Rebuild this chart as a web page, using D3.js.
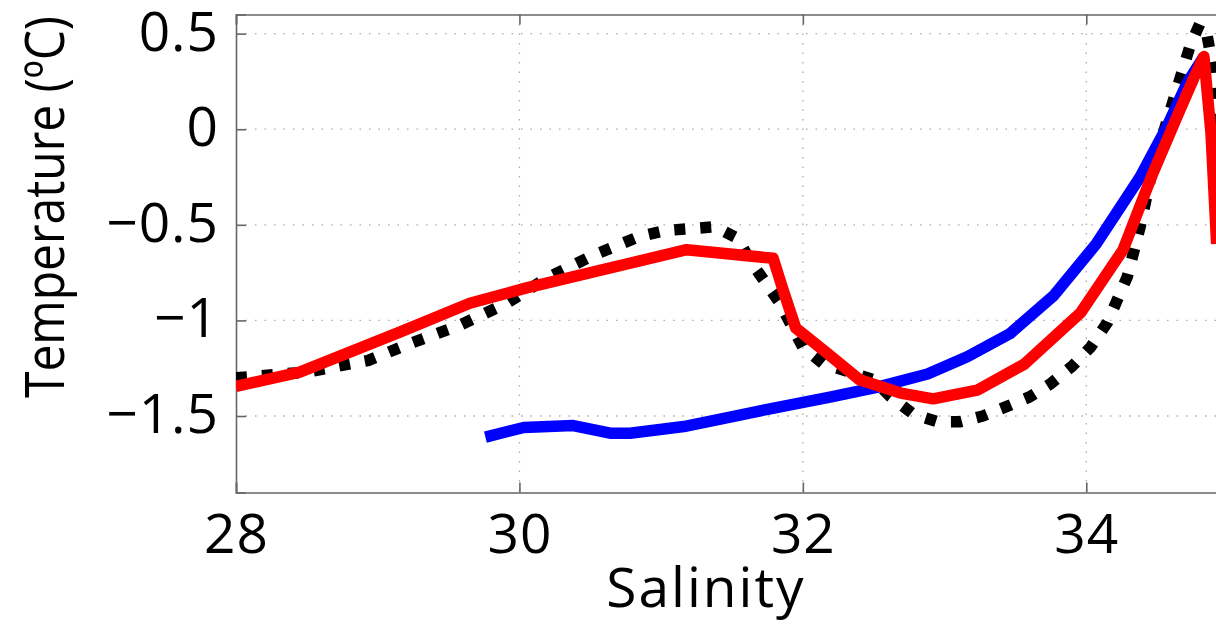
<!DOCTYPE html>
<html>
<head>
<meta charset="utf-8">
<script src="https://cdn.jsdelivr.net/npm/d3@7"></script>
<style>
  body { margin: 0; background: #fff; }
  text { font-family: "Open Sans", sans-serif; fill: #000; }
</style>
</head>
<body>
<div id="content"></div>
<script>
// salinity / temperature profiles
var salBlack = [28, 28.5, 28.93, 29.23, 29.58, 29.91, 30.19, 30.52, 30.85, 31.03, 31.21, 31.38, 31.54, 31.63, 31.83, 32.0, 32.14, 32.33, 32.5, 32.62, 32.78, 32.95, 33.11, 33.27, 33.44, 33.6, 33.75, 33.9, 34.03, 34.15, 34.29, 34.38, 34.47, 34.61, 34.73, 34.8, 34.85, 34.9, 34.95];
var tempBlack = [-1.3, -1.27, -1.21, -1.12, -1.025, -0.91, -0.78, -0.66, -0.56, -0.53, -0.52, -0.51, -0.57, -0.69, -0.9, -1.14, -1.225, -1.27, -1.31, -1.4, -1.49, -1.53, -1.53, -1.5, -1.45, -1.4, -1.33, -1.24, -1.14, -1.01, -0.77, -0.51, -0.2, 0.14, 0.43, 0.55, 0.5, 0.3, -0.2];

var salBlue = [29.76, 30.03, 30.38, 30.64, 30.78, 31.16, 31.75, 32.2, 32.52, 32.88, 33.16, 33.46, 33.77, 34.07, 34.38, 34.57, 34.71, 34.83];
var tempBlue = [-1.61, -1.56, -1.55, -1.59, -1.59, -1.555, -1.465, -1.4, -1.35, -1.28, -1.19, -1.07, -0.87, -0.6, -0.25, 0.015, 0.24, 0.38];

var salRed = [28, 28.45, 29.16, 29.65, 30.05, 31.18, 31.79, 31.86, 31.95, 32.17, 32.4, 32.69, 32.92, 33.23, 33.56, 33.96, 34.26, 34.47, 34.64, 34.76, 34.83, 34.88, 34.92];
var tempRed = [-1.345, -1.27, -1.06, -0.91, -0.83, -0.63, -0.675, -0.84, -1.04, -1.17, -1.31, -1.38, -1.41, -1.365, -1.23, -0.96, -0.63, -0.23, 0.065, 0.27, 0.38, -0.02, -0.6];

var xTicks = [28, 30, 32, 34];
var yTicks = [0.5, 0, -0.5, -1, -1.5];

var W = 1216, H = 626;
var plot = {l: 236, t: 14.5, r: 1228, b: 492.5};

var svg = d3.select("#content")
            .append("svg")
            .attr("width", W)
            .attr("height", H);

var scaleX = d3.scaleLinear().domain([28, 35]).range([plot.l, plot.r]);
var scaleY = d3.scaleLinear().domain([-1.9, 0.6]).range([plot.b, plot.t]);

svg.append("clipPath").attr("id", "clip")
   .append("rect")
   .attr("x", plot.l).attr("y", plot.t)
   .attr("width", plot.r - plot.l).attr("height", plot.b - plot.t);

// dotted grid
var grid = svg.append("g").attr("stroke", "#aaa").attr("stroke-width", 1.3).attr("stroke-dasharray", "1.5,8");
grid.selectAll(".gx").data(xTicks.slice(1)).enter().append("line")
    .attr("x1", function(d) { return scaleX(d); }).attr("x2", function(d) { return scaleX(d); })
    .attr("y1", plot.t).attr("y2", plot.b);
grid.selectAll(".gy").data(yTicks).enter().append("line")
    .attr("x1", plot.l).attr("x2", plot.r)
    .attr("y1", function(d) { return scaleY(d); }).attr("y2", function(d) { return scaleY(d); });

// axes, ticks pointing inward
var axisX = d3.axisBottom(scaleX).tickValues(xTicks).tickSize(-10).tickPadding(22).tickFormat(d3.format("d"));
var axisY = d3.axisLeft(scaleY).tickValues(yTicks).tickSize(-10).tickPadding(17)
              .tickFormat(function(d) { return d < 0 ? "\u2212" + Math.abs(d) : String(d); });
var axisXTop = d3.axisTop(scaleX).tickValues(xTicks).tickSize(-10).tickFormat("");

function styleAxis(g) {
  g.select(".domain").attr("stroke", "#666").attr("stroke-width", 1.6);
  g.selectAll(".tick line").attr("stroke", "#666").attr("stroke-width", 1.6);
  g.selectAll(".tick text").attr("font-size", 55).attr("fill", "#000").style("letter-spacing", "1px");
}

svg.append("g").attr("transform", "translate(0," + plot.b + ")").call(axisX).call(styleAxis)
   .selectAll(".tick text").attr("dy", "0.7em");
svg.append("g").attr("transform", "translate(" + plot.l + ",0)").call(axisY).call(styleAxis)
   .selectAll(".tick text").attr("dy", "0.3em");
svg.append("g").attr("transform", "translate(0," + plot.t + ")").call(axisXTop).call(styleAxis);

// profile lines
var lines = svg.append("g").attr("clip-path", "url(#clip)");
function drawLine(sal, temp, color, dash) {
  var pts = sal.map(function(s, i) { return [s, temp[i]]; });
  var line = d3.line().x(function(d) { return scaleX(d[0]); }).y(function(d) { return scaleY(d[1]); });
  lines.append("path")
       .attr("d", line(pts))
       .attr("fill", "none")
       .attr("stroke", color)
       .attr("stroke-width", 11.5)
       .attr("stroke-linejoin", "round")
       .attr("stroke-dasharray", dash);
}
drawLine(salBlack, tempBlack, "#000", "11,15");
drawLine(salBlue, tempBlue, "#0000ff", null);
drawLine(salRed, tempRed, "#ff0000", null);

// axis labels
svg.append("text")
   .attr("x", 706).attr("y", 607)
   .attr("text-anchor", "middle")
   .attr("font-size", 55)
   .style("letter-spacing", "2px")
   .text("Salinity");

svg.append("text")
   .attr("transform", "translate(64,207) rotate(-90)")
   .attr("text-anchor", "middle")
   .attr("font-size", 55)
   .attr("textLength", 382)
   .attr("lengthAdjust", "spacingAndGlyphs")
   .text("Temperature (\u00baC)");
</script>
</body>
</html>
